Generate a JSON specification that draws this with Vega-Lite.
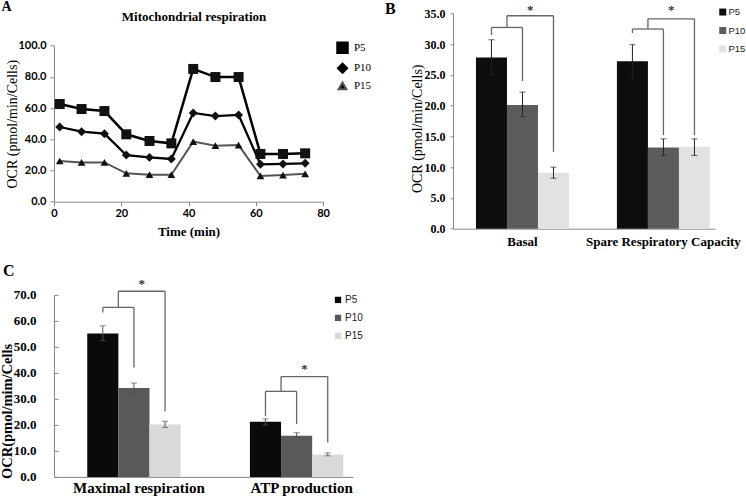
{
  "$schema": "https://vega.github.io/schema/vega-lite/v6.json",
  "autosize": {"type": "none"},
  "padding": {"left": 54, "top": 13.3, "right": 692, "bottom": 484},
  "background": "white",
  "config": {
    "view": {"stroke": null},
    "axis": {"grid": false, "domainColor": "#888888", "tickColor": "#888888", "labelColor": "#000000", "titleColor": "#000000", "labelOverlap": false},
    "legend": {"padding": 0},
    "title": {"color": "#000000"}
  },
  "datasets": {
    "ocr": [
      {"series": "P5", "time": 1.7, "ocr": 62.6}, {"series": "P5", "time": 8.2, "ocr": 59.4}, {"series": "P5", "time": 15.0, "ocr": 58.1},
      {"series": "P5", "time": 21.5, "ocr": 43.2}, {"series": "P5", "time": 28.4, "ocr": 38.9}, {"series": "P5", "time": 34.9, "ocr": 37.4},
      {"series": "P5", "time": 41.4, "ocr": 85.1}, {"series": "P5", "time": 48.0, "ocr": 79.9}, {"series": "P5", "time": 54.9, "ocr": 79.9},
      {"series": "P5", "time": 61.4, "ocr": 30.6}, {"series": "P5", "time": 68.1, "ocr": 30.6}, {"series": "P5", "time": 74.7, "ocr": 31.0},
      {"series": "P10", "time": 1.7, "ocr": 47.9}, {"series": "P10", "time": 8.2, "ocr": 44.9}, {"series": "P10", "time": 15.0, "ocr": 43.6},
      {"series": "P10", "time": 21.5, "ocr": 29.9}, {"series": "P10", "time": 28.4, "ocr": 28.4}, {"series": "P10", "time": 34.9, "ocr": 27.4},
      {"series": "P10", "time": 41.4, "ocr": 56.9}, {"series": "P10", "time": 48.0, "ocr": 54.9}, {"series": "P10", "time": 54.9, "ocr": 55.6},
      {"series": "P10", "time": 61.4, "ocr": 24.0}, {"series": "P10", "time": 68.1, "ocr": 24.2}, {"series": "P10", "time": 74.7, "ocr": 24.6},
      {"series": "P15", "time": 1.7, "ocr": 26.1}, {"series": "P15", "time": 8.2, "ocr": 25.2}, {"series": "P15", "time": 15.0, "ocr": 25.2},
      {"series": "P15", "time": 21.5, "ocr": 18.2}, {"series": "P15", "time": 28.4, "ocr": 17.3}, {"series": "P15", "time": 34.9, "ocr": 17.3},
      {"series": "P15", "time": 41.4, "ocr": 38.5}, {"series": "P15", "time": 48.0, "ocr": 35.9}, {"series": "P15", "time": 54.9, "ocr": 36.3},
      {"series": "P15", "time": 61.4, "ocr": 16.5}, {"series": "P15", "time": 68.1, "ocr": 17.1}, {"series": "P15", "time": 74.7, "ocr": 17.9}
    ],
    "bars_b": [
      {"group": "Basal", "passage": "P5", "value": 27.8, "lo": 25.0, "hi": 30.7},
      {"group": "Basal", "passage": "P10", "value": 20.1, "lo": 18.2, "hi": 22.2},
      {"group": "Basal", "passage": "P15", "value": 9.1, "lo": 8.2, "hi": 10.0},
      {"group": "Spare Respiratory Capacity", "passage": "P5", "value": 27.2, "lo": 24.4, "hi": 29.9},
      {"group": "Spare Respiratory Capacity", "passage": "P10", "value": 13.2, "lo": 11.9, "hi": 14.6},
      {"group": "Spare Respiratory Capacity", "passage": "P15", "value": 13.3, "lo": 11.9, "hi": 14.6}
    ],
    "br_b": [
      {"group": "Basal", "a1": 31.5, "h1": 32.7, "b1": 24.0, "h2": 34.6, "b2": 12.5, "star": 34.9},
      {"group": "Spare Respiratory Capacity", "a1": 31.8, "h1": 32.45, "b1": 15.2, "h2": 34.1, "b2": 15.2, "star": 34.9}
    ],
    "bars_c": [
      {"group": "Maximal respiration", "passage": "P5", "value": 55.2, "lo": 52.4, "hi": 58.1},
      {"group": "Maximal respiration", "passage": "P10", "value": 34.2, "lo": 32.5, "hi": 36.1},
      {"group": "Maximal respiration", "passage": "P15", "value": 20.2, "lo": 19.0, "hi": 21.4},
      {"group": "ATP production", "passage": "P5", "value": 21.2, "lo": 19.9, "hi": 22.3},
      {"group": "ATP production", "passage": "P10", "value": 15.8, "lo": 14.8, "hi": 17.0},
      {"group": "ATP production", "passage": "P15", "value": 8.6, "lo": 8.1, "hi": 9.2}
    ],
    "br_c": [
      {"group": "Maximal respiration", "a1": 63.2, "h1": 65.2, "b1": 42.1, "h2": 71.4, "b2": 25.2, "star": 72.8},
      {"group": "ATP production", "a1": 23.5, "h1": 32.9, "b1": 20.3, "h2": 38.6, "b2": 13.2, "star": 40.0}
    ]
  },
  "bounds": "flush",
  "columns": 2,
  "align": "all",
  "spacing": {"row": 65.6, "column": 100},
  "resolve": {"scale": {"color": "independent", "xOffset": "independent", "shape": "independent", "size": "independent", "strokeWidth": "independent"}},
  "concat": [
    {
      "width": 269, "height": 188.4,
      "data": {"name": "ocr"},
      "resolve": {"axis": {"x": "independent", "y": "independent"}},
      "layer": [
        {
          "mark": {"type": "line"},
          "encoding": {
            "x": {"field": "time", "type": "quantitative", "scale": {"domain": [0, 80], "nice": false},
              "axis": {"values": [0, 20, 40, 60, 80], "labelFont": "Lato", "labelFontWeight": "bold", "labelFontSize": 11, "labelFlush": false, "tickSize": 4, "labelPadding": 2,
                "title": "Time (min)", "titleFont": "Liberation Serif", "titleFontSize": 13, "titleFontWeight": "bold", "titleY": 30, "titleBaseline": "middle"}},
            "y": {"field": "ocr", "type": "quantitative", "scale": {"domain": [0, 100], "nice": false, "range": [188.4, 32.4]},
              "axis": {"values": [0, 20, 40, 60, 80, 100], "format": ".1f", "labelFont": "Lato", "labelFontWeight": "bold", "labelFontSize": 11, "tickSize": 4, "labelPadding": 4,
                "title": "OCR (pmol/min/Cells)", "titleFont": "Liberation Serif", "titleFontSize": 14, "titleFontWeight": "normal", "titleX": -42, "titleY": 110.4, "titleBaseline": "middle", "titleAlign": "center", "titleAngle": 270}},
            "color": {"field": "series", "type": "nominal", "scale": {"domain": ["P5", "P10", "P15"], "range": ["#000000", "#000000", "#555555"]},
              "legend": {"title": null, "orient": "none", "legendX": 282, "legendY": 28, "symbolSize": 50, "symbolFillColor": "#000000", "symbolStrokeColor": "#000000", "symbolStrokeWidth": 1, "labelFont": "Liberation Serif", "labelFontSize": 11, "labelColor": "#000000", "labelOffset": 5, "rowPadding": 1}},
            "strokeWidth": {"field": "series", "type": "ordinal", "scale": {"domain": ["P5", "P10", "P15"], "range": [2.5, 2, 1.2]}, "legend": null}
          }
        },
        {
          "mark": {"type": "point", "filled": true, "opacity": 1, "color": "#111111"},
          "encoding": {
            "x": {"field": "time", "type": "quantitative",
              "axis": {"orient": "top", "domain": false, "ticks": false, "labels": false, "title": "Mitochondrial respiration", "titleFont": "Liberation Serif", "titleFontSize": 13, "titleFontWeight": "bold", "titleX": 139.5, "titleY": 3.7, "titleBaseline": "middle", "titleAlign": "center"}},
            "y": {"field": "ocr", "type": "quantitative",
              "axis": {"orient": "right", "domain": false, "ticks": false, "labels": false, "title": "A", "titleFont": "Liberation Serif", "titleFontSize": 14, "titleFontWeight": "bold", "titleAngle": 0, "titleX": -317, "titleY": -6.8, "titleBaseline": "middle", "titleAlign": "center"}},
            "shape": {"field": "series", "type": "nominal", "scale": {"domain": ["P5", "P10", "P15"], "range": ["square", "diamond", "triangle-up"]}, "legend": null},
            "size": {"field": "series", "type": "ordinal", "scale": {"domain": ["P5", "P10", "P15"], "range": [100, 60, 90]}, "legend": null}
          }
        }
      ]
    },
    {
      "width": 262, "height": 215.4,
      "title": {"text": "B", "anchor": "start", "frame": "group", "font": "Liberation Serif", "fontSize": 16, "fontWeight": "bold", "baseline": "alphabetic", "dx": -68, "offset": 0, "dy": 26},
      "resolve": {"axis": {"x": "independent", "y": "independent"}},
      "layer": [
        {
          "data": {"name": "bars_b"},
          "mark": {"type": "bar"},
          "encoding": {
            "x": {"field": "group", "type": "nominal", "scale": {"domain": ["Basal", "Spare Respiratory Capacity"], "paddingInner": 0.34, "paddingOuter": 0.0993, "align": 0.82},
              "axis": {"title": null, "labelAngle": 0, "ticks": false, "labelFont": "Liberation Serif", "labelFontWeight": "bold", "labelFontSize": 13, "labelPadding": 7, "labelLimit": 0}},
            "xOffset": {"field": "passage", "type": "nominal", "scale": {"domain": ["P5", "P10", "P15"], "paddingInner": 0, "paddingOuter": 0}},
            "y": {"field": "value", "type": "quantitative", "scale": {"domain": [0, 35], "nice": false},
              "axis": {"values": [0, 5, 10, 15, 20, 25, 30, 35], "labelOverlap": false, "format": ".1f", "labelFont": "Liberation Serif", "labelFontWeight": "bold", "labelFontSize": 12, "tickSize": 3, "labelPadding": 5,
                "title": "OCR (pmol/min/Cells)", "titleFont": "Liberation Serif", "titleFontSize": 14, "titleFontWeight": "normal", "titleX": -35, "titleY": 115, "titleBaseline": "middle", "titleAlign": "center", "titleAngle": 270}},
            "color": {"field": "passage", "type": "nominal", "scale": {"domain": ["P5", "P10", "P15"], "range": ["#0d0d0d", "#5c5c5c", "#e2e2e2"]},
              "legend": {"title": null, "orient": "none", "legendX": 265, "legendY": -6, "symbolType": "square", "symbolSize": 49, "symbolStrokeWidth": 0, "labelFont": "Liberation Sans", "labelFontSize": 9.5, "labelColor": "#222222", "labelOffset": 1, "rowPadding": 7.5}}
          }
        },
        {
          "data": {"name": "bars_b"},
          "mark": {"type": "rule", "color": "#222222", "strokeWidth": 1},
          "encoding": {
            "x": {"field": "group", "type": "nominal", "axis": null},
            "xOffset": {"field": "passage", "type": "nominal"},
            "y": {"field": "lo", "type": "quantitative", "axis": null},
            "y2": {"field": "hi"}
          }
        },
        {
          "data": {"name": "bars_b"},
          "mark": {"type": "tick", "color": "#222222", "size": 6, "thickness": 1},
          "encoding": {
            "x": {"field": "group", "type": "nominal", "axis": null},
            "xOffset": {"field": "passage", "type": "nominal"},
            "y": {"field": "hi", "type": "quantitative", "axis": null}
          }
        },
        {
          "data": {"name": "bars_b"},
          "mark": {"type": "tick", "color": "#222222", "size": 6, "thickness": 1},
          "encoding": {
            "x": {"field": "group", "type": "nominal", "axis": null},
            "xOffset": {"field": "passage", "type": "nominal"},
            "y": {"field": "lo", "type": "quantitative", "axis": null}
          }
        },
        {
          "data": {"name": "br_b"},
          "mark": {"type": "rule", "color": "#666666", "strokeWidth": 1.3},
          "encoding": {"x": {"field": "group", "type": "nominal", "bandPosition": 0.1667, "axis": null}, "y": {"field": "a1", "type": "quantitative", "axis": null}, "y2": {"field": "h1"}}
        },
        {
          "data": {"name": "br_b"},
          "mark": {"type": "rule", "color": "#666666", "strokeWidth": 1.3},
          "encoding": {"x": {"field": "group", "type": "nominal", "bandPosition": 0.1667, "axis": null}, "x2": {"field": "group", "bandPosition": 0.5}, "y": {"field": "h1", "type": "quantitative", "axis": null}}
        },
        {
          "data": {"name": "br_b"},
          "mark": {"type": "rule", "color": "#666666", "strokeWidth": 1.3},
          "encoding": {"x": {"field": "group", "type": "nominal", "bandPosition": 0.5, "axis": null}, "y": {"field": "b1", "type": "quantitative", "axis": null}, "y2": {"field": "h1"}}
        },
        {
          "data": {"name": "br_b"},
          "mark": {"type": "rule", "color": "#666666", "strokeWidth": 1.3},
          "encoding": {"x": {"field": "group", "type": "nominal", "bandPosition": 0.3333, "axis": null}, "y": {"field": "h1", "type": "quantitative", "axis": null}, "y2": {"field": "h2"}}
        },
        {
          "data": {"name": "br_b"},
          "mark": {"type": "rule", "color": "#666666", "strokeWidth": 1.3},
          "encoding": {"x": {"field": "group", "type": "nominal", "bandPosition": 0.3333, "axis": null}, "x2": {"field": "group", "bandPosition": 0.8333}, "y": {"field": "h2", "type": "quantitative", "axis": null}}
        },
        {
          "data": {"name": "br_b"},
          "mark": {"type": "rule", "color": "#666666", "strokeWidth": 1.3},
          "encoding": {"x": {"field": "group", "type": "nominal", "bandPosition": 0.8333, "axis": null}, "y": {"field": "b2", "type": "quantitative", "axis": null}, "y2": {"field": "h2"}}
        },
        {
          "data": {"name": "br_b"},
          "mark": {"type": "text", "text": "*", "font": "Liberation Serif", "fontSize": 13, "fontWeight": "bold", "baseline": "alphabetic", "color": "#333333", "fill": "#333333"},
          "encoding": {"x": {"field": "group", "type": "nominal", "bandPosition": 0.5833, "axis": null}, "y": {"field": "star", "type": "quantitative", "axis": null}}
        }
      ]
    },
    {
      "width": 299, "height": 182,
      "title": {"text": "C", "anchor": "start", "frame": "group", "font": "Liberation Serif", "fontSize": 16, "fontWeight": "bold", "baseline": "alphabetic", "dx": -51, "offset": 0, "dy": 14.5},
      "resolve": {"axis": {"x": "independent", "y": "independent"}},
      "layer": [
        {
          "data": {"name": "bars_c"},
          "mark": {"type": "bar"},
          "encoding": {
            "x": {"field": "group", "type": "nominal", "scale": {"domain": ["Maximal respiration", "ATP production"], "paddingInner": 0.426, "paddingOuter": 0.132, "align": 0.774},
              "axis": {"title": null, "labelAngle": 0, "ticks": false, "labelFont": "Liberation Serif", "labelFontWeight": "bold", "labelFontSize": 15, "labelPadding": 4, "labelOffset": 5, "labelLimit": 0}},
            "xOffset": {"field": "passage", "type": "nominal", "scale": {"domain": ["P5", "P10", "P15"], "paddingInner": 0, "paddingOuter": 0}},
            "y": {"field": "value", "type": "quantitative", "scale": {"domain": [0, 70], "nice": false},
              "axis": {"values": [0, 10, 20, 30, 40, 50, 60, 70], "labelOverlap": false, "format": ".1f", "labelFont": "Liberation Serif", "labelFontWeight": "bold", "labelFontSize": 13, "tickSize": -4, "labelPadding": 22,
                "title": "OCR(pmol/mim/Cells", "titleFont": "Liberation Serif", "titleFontSize": 14.5, "titleFontWeight": "bold", "titleX": -46.5, "titleY": 116, "titleBaseline": "middle", "titleAlign": "center", "titleAngle": 270}},
            "color": {"field": "passage", "type": "nominal", "scale": {"domain": ["P5", "P10", "P15"], "range": ["#0a0a0a", "#595959", "#d9d9d9"]},
              "legend": {"title": null, "orient": "none", "legendX": 279, "legendY": 0, "symbolType": "square", "symbolSize": 40, "symbolStrokeWidth": 0, "labelFont": "Liberation Sans", "labelFontSize": 10, "labelColor": "#222222", "labelOffset": 2, "rowPadding": 8}}
          }
        },
        {
          "data": {"name": "bars_c"},
          "mark": {"type": "rule", "color": "#555555", "strokeWidth": 1},
          "encoding": {
            "x": {"field": "group", "type": "nominal", "axis": null},
            "xOffset": {"field": "passage", "type": "nominal"},
            "y": {"field": "lo", "type": "quantitative", "axis": null},
            "y2": {"field": "hi"}
          }
        },
        {
          "data": {"name": "bars_c"},
          "mark": {"type": "tick", "color": "#555555", "size": 6, "thickness": 1},
          "encoding": {
            "x": {"field": "group", "type": "nominal", "axis": null},
            "xOffset": {"field": "passage", "type": "nominal"},
            "y": {"field": "hi", "type": "quantitative", "axis": null}
          }
        },
        {
          "data": {"name": "bars_c"},
          "mark": {"type": "tick", "color": "#555555", "size": 6, "thickness": 1},
          "encoding": {
            "x": {"field": "group", "type": "nominal", "axis": null},
            "xOffset": {"field": "passage", "type": "nominal"},
            "y": {"field": "lo", "type": "quantitative", "axis": null}
          }
        },
        {
          "data": {"name": "br_c"},
          "mark": {"type": "rule", "color": "#666666", "strokeWidth": 1.3},
          "encoding": {"x": {"field": "group", "type": "nominal", "bandPosition": 0.1667, "axis": null}, "y": {"field": "a1", "type": "quantitative", "axis": null}, "y2": {"field": "h1"}}
        },
        {
          "data": {"name": "br_c"},
          "mark": {"type": "rule", "color": "#666666", "strokeWidth": 1.3},
          "encoding": {"x": {"field": "group", "type": "nominal", "bandPosition": 0.1667, "axis": null}, "x2": {"field": "group", "bandPosition": 0.5}, "y": {"field": "h1", "type": "quantitative", "axis": null}}
        },
        {
          "data": {"name": "br_c"},
          "mark": {"type": "rule", "color": "#666666", "strokeWidth": 1.3},
          "encoding": {"x": {"field": "group", "type": "nominal", "bandPosition": 0.5, "axis": null}, "y": {"field": "b1", "type": "quantitative", "axis": null}, "y2": {"field": "h1"}}
        },
        {
          "data": {"name": "br_c"},
          "mark": {"type": "rule", "color": "#666666", "strokeWidth": 1.3},
          "encoding": {"x": {"field": "group", "type": "nominal", "bandPosition": 0.3333, "axis": null}, "y": {"field": "h1", "type": "quantitative", "axis": null}, "y2": {"field": "h2"}}
        },
        {
          "data": {"name": "br_c"},
          "mark": {"type": "rule", "color": "#666666", "strokeWidth": 1.3},
          "encoding": {"x": {"field": "group", "type": "nominal", "bandPosition": 0.3333, "axis": null}, "x2": {"field": "group", "bandPosition": 0.8333}, "y": {"field": "h2", "type": "quantitative", "axis": null}}
        },
        {
          "data": {"name": "br_c"},
          "mark": {"type": "rule", "color": "#666666", "strokeWidth": 1.3},
          "encoding": {"x": {"field": "group", "type": "nominal", "bandPosition": 0.8333, "axis": null}, "y": {"field": "b2", "type": "quantitative", "axis": null}, "y2": {"field": "h2"}}
        },
        {
          "data": {"name": "br_c"},
          "mark": {"type": "text", "text": "*", "font": "Liberation Serif", "fontSize": 13, "fontWeight": "bold", "baseline": "alphabetic", "color": "#333333", "fill": "#333333"},
          "encoding": {"x": {"field": "group", "type": "nominal", "bandPosition": 0.5833, "axis": null}, "y": {"field": "star", "type": "quantitative", "axis": null}}
        }
      ]
    }
  ]
}
